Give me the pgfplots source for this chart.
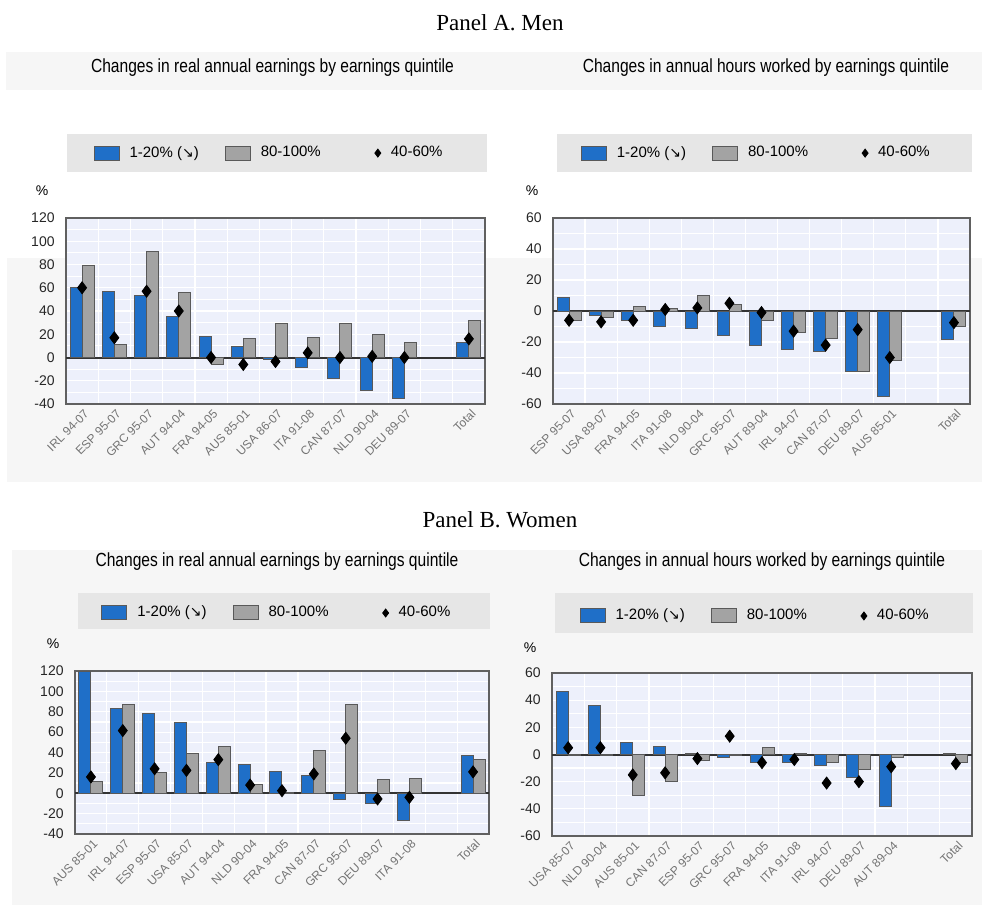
\documentclass[border=0pt]{standalone}
\usepackage{fontspec}
\setmainfont{Liberation Sans}
\newfontfamily\seriffont{Liberation Serif}
\newfontfamily\narrow[FakeStretch=0.82]{Liberation Sans}
\newfontfamily\dejavu{DejaVu Sans}
\usepackage{pgfplots}
\pgfplotsset{compat=1.18}
\definecolor{barblue}{RGB}{31,111,200}
\definecolor{bargray}{RGB}{163,163,163}
\definecolor{plotbg}{RGB}{237,240,251}
\definecolor{legbg}{RGB}{230,230,230}
\definecolor{bandbg}{RGB}{246,246,246}
\pgfplotsset{
  mycommon/.style={
    scale only axis, anchor=south west,
    xmin=-0.5, xmax=12.5,
    xtick={0,...,10,12},
    minor xtick={0.5,1.5,...,11.5},
    xminorgrids, ymajorgrids, yminorgrids, minor y tick num=1,
    grid style={white, line width=0.6pt},
    major tick length=0pt, minor tick length=0pt,
    axis background/.style={fill=plotbg},
    axis line style={draw=gray!75!black, line width=0.9pt},
    /pgf/number format/assume math mode=true,
    yticklabel style={font=\fontsize{7}{8}\selectfont, text=black!85, inner sep=2pt, xshift=-3.5pt},
    xticklabel style={rotate=45, anchor=north east, font=\fontsize{6}{7}\selectfont, text=gray!90!black, inner sep=1pt, yshift=-1pt},
    extra y ticks={0}, extra y tick labels={},
    extra y tick style={grid=major, major grid style={draw=gray!40!black, line width=1pt}},
    legend style={draw=none, fill=none, legend columns=3, font=\fontsize{7.5}{9}\selectfont,
      /tikz/every even column/.append style={column sep=11pt},
      /tikz/every odd column/.append style={column sep=3pt},
      anchor=center},
  },
  bluebar/.style={ybar, bar width=6pt, bar shift=-3pt, fill=barblue, draw=black!65, line width=0.5pt,
    legend image code/.code={\draw[fill=barblue, draw=black!65, line width=0.5pt] (0pt,-3.5pt) rectangle (12.5pt,3.5pt);}},
  graybar/.style={ybar, bar width=6pt, bar shift=3pt, fill=bargray, draw=black!65, line width=0.5pt,
    legend image code/.code={\draw[fill=bargray, draw=black!65, line width=0.5pt] (0pt,-3.5pt) rectangle (12.5pt,3.5pt);}},
  diam/.style={only marks, mark=diamond*, mark size=3pt, mark options={fill=black, draw=black},
    legend image code/.code={\draw[fill=black, draw=black] plot[mark=diamond*, mark size=2pt, only marks] coordinates {(1pt,0pt)};}},
}
\newcommand{\arr}{({\dejavu\fontsize{7}{8}\selectfont ↘})}
\begin{document}
\begin{tikzpicture}
\path[use as bounding box] (0,0) rectangle (491pt,-452.5pt);
% backgrounds
\fill[bandbg] (3pt,-26pt) rectangle (491pt,-45pt);
\fill[bandbg] (3.5pt,-129pt) rectangle (491pt,-241pt);
\fill[bandbg] (6pt,-275pt) rectangle (491pt,-452.5pt);
\fill[legbg] (33.5pt,-67pt) rectangle (243.5pt,-86pt);
\fill[legbg] (278.5pt,-67pt) rectangle (486pt,-86pt);
\fill[legbg] (39pt,-296.5pt) rectangle (245pt,-314.5pt);
\fill[legbg] (277.5pt,-296.5pt) rectangle (486.5pt,-316.5pt);
% titles
\node[font=\seriffont\fontsize{11.5}{13}\selectfont] at (250pt,-11.5pt) {Panel A. Men};
\node[font=\seriffont\fontsize{11.5}{13}\selectfont] at (250pt,-260pt) {Panel B. Women};
\node[font=\narrow\fontsize{9.5}{11}\selectfont] at (136.25pt,-34pt) {Changes in real annual earnings by earnings quintile};
\node[font=\narrow\fontsize{9.5}{11}\selectfont] at (383pt,-34pt) {Changes in annual hours worked by earnings quintile};
\node[font=\narrow\fontsize{9.5}{11}\selectfont] at (138.5pt,-281pt) {Changes in real annual earnings by earnings quintile};
\node[font=\narrow\fontsize{9.5}{11}\selectfont] at (381pt,-281pt) {Changes in annual hours worked by earnings quintile};
\node[font=\fontsize{7}{8}\selectfont] at (21pt,-95.5pt) {\%};
\node[font=\fontsize{7}{8}\selectfont] at (266pt,-95.5pt) {\%};
\node[font=\fontsize{7}{8}\selectfont] at (26.5pt,-322pt) {\%};
\node[font=\fontsize{7}{8}\selectfont] at (265pt,-324pt) {\%};

% Panel A left
\begin{axis}[mycommon, at={(33pt,-202pt)}, width=209.5pt, height=93pt,
  ymin=-40, ymax=120, ytick={-40,-20,...,120},
  xticklabels={IRL 94-07,ESP 95-07,GRC 95-07,AUT 94-04,FRA 94-05,AUS 85-01,USA 86-07,ITA 91-08,CAN 87-07,NLD 90-04,DEU 89-07,Total},
  legend style={at={(0.487,1.349)}}]
\addplot[bluebar] coordinates {(0,60)(1,57)(2,53)(3,35)(4,18)(5,9.5)(6,-2)(7,-9)(8,-18)(9,-28)(10,-35)(12,12.5)};
\addlegendentry{1-20\% \arr}
\addplot[graybar] coordinates {(0,79)(1,11)(2,91)(3,56)(4,-6)(5,16)(6,29)(7,17)(8,29)(9,20)(10,13)(12,32)};
\addlegendentry{80-100\%\hspace*{14pt}\mbox{}}
\addplot[diam] coordinates {(0,60)(1,17)(2,57)(3,40)(4,0)(5,-6)(6,-3.5)(7,4)(8,0)(9,1)(10,0)(12,16)};
\addlegendentry{40-60\%}
\end{axis}

% Panel A right
\begin{axis}[mycommon, at={(276.5pt,-202pt)}, width=208.5pt, height=93pt,
  ymin=-60, ymax=60, ytick={-60,-40,...,60},
  xticklabels={ESP 95-07,USA 89-07,FRA 94-05,ITA 91-08,NLD 90-04,GRC 95-07,AUT 89-04,IRL 94-07,CAN 87-07,DEU 89-07,AUS 85-01,Total},
  legend style={at={(0.49,1.349)}}]
\addplot[bluebar] coordinates {(0,8.7)(1,-3)(2,-6)(3,-10)(4,-11.5)(5,-16)(6,-22)(7,-25)(8,-26)(9,-39)(10,-55)(12,-18.5)};
\addlegendentry{1-20\% \arr}
\addplot[graybar] coordinates {(0,-6)(1,-4.5)(2,3)(3,1.5)(4,10)(5,4)(6,-6)(7,-14)(8,-18)(9,-39)(10,-32)(12,-10)};
\addlegendentry{80-100\%\hspace*{14pt}\mbox{}}
\addplot[diam] coordinates {(0,-6)(1,-7)(2,-6)(3,1)(4,2)(5,5)(6,-1)(7,-13)(8,-22)(9,-12)(10,-30)(12,-7.5)};
\addlegendentry{40-60\%}
\end{axis}

% Panel B left
\begin{axis}[mycommon, at={(37.5pt,-417pt)}, width=207pt, height=81.5pt,
  ymin=-40, ymax=120, ytick={-40,-20,...,120},
  xticklabels={AUS 85-01,IRL 94-07,ESP 95-07,USA 85-07,AUT 94-04,NLD 90-04,FRA 94-05,CAN 87-07,GRC 95-07,DEU 89-07,ITA 91-08,Total},
  legend style={at={(0.49,1.356)}}]
\addplot[bluebar] coordinates {(0,120)(1,83)(2,78)(3,69)(4,30)(5,28.5)(6,21)(7,17.5)(8,-6.6)(9,-10)(10,-26.5)(12,37)};
\addlegendentry{1-20\% \arr}
\addplot[graybar] coordinates {(0,11.5)(1,87)(2,20)(3,39)(4,46)(5,9)(6,0.8)(7,42)(8,87)(9,13.5)(10,14)(12,33)};
\addlegendentry{80-100\%\hspace*{14pt}\mbox{}}
\addplot[diam] coordinates {(0,16)(1,61.5)(2,24)(3,22.5)(4,33)(5,8)(6,2.5)(7,19)(8,54)(9,-5.6)(10,-4)(12,21)};
\addlegendentry{40-60\%}
\end{axis}

% Panel B right
\begin{axis}[mycommon, at={(276pt,-418pt)}, width=210pt, height=81.5pt,
  ymin=-60, ymax=60, ytick={-60,-40,...,60},
  xticklabels={USA 85-07,NLD 90-04,AUS 85-01,CAN 87-07,ESP 95-07,GRC 95-07,FRA 94-05,ITA 91-08,IRL 94-07,DEU 89-07,AUT 89-04,Total},
  legend style={at={(0.486,1.35)}}]
\addplot[bluebar] coordinates {(0,46.5)(1,36)(2,8.7)(3,6)(4,1)(5,-2.5)(6,-5.7)(7,-6.2)(8,-8)(9,-17)(10,-38)(12,1)};
\addlegendentry{1-20\% \arr}
\addplot[graybar] coordinates {(0,-1)(1,-1)(2,-30)(3,-20)(4,-4.5)(5,-1)(6,5)(7,1)(8,-6)(9,-11)(10,-2.5)(12,-6)};
\addlegendentry{80-100\%\hspace*{14pt}\mbox{}}
\addplot[diam] coordinates {(0,5)(1,5)(2,-15)(3,-13.5)(4,-3)(5,13.5)(6,-6)(7,-3.7)(8,-21)(9,-20)(10,-9)(12,-6.7)};
\addlegendentry{40-60\%}
\end{axis}
\end{tikzpicture}
\end{document}
